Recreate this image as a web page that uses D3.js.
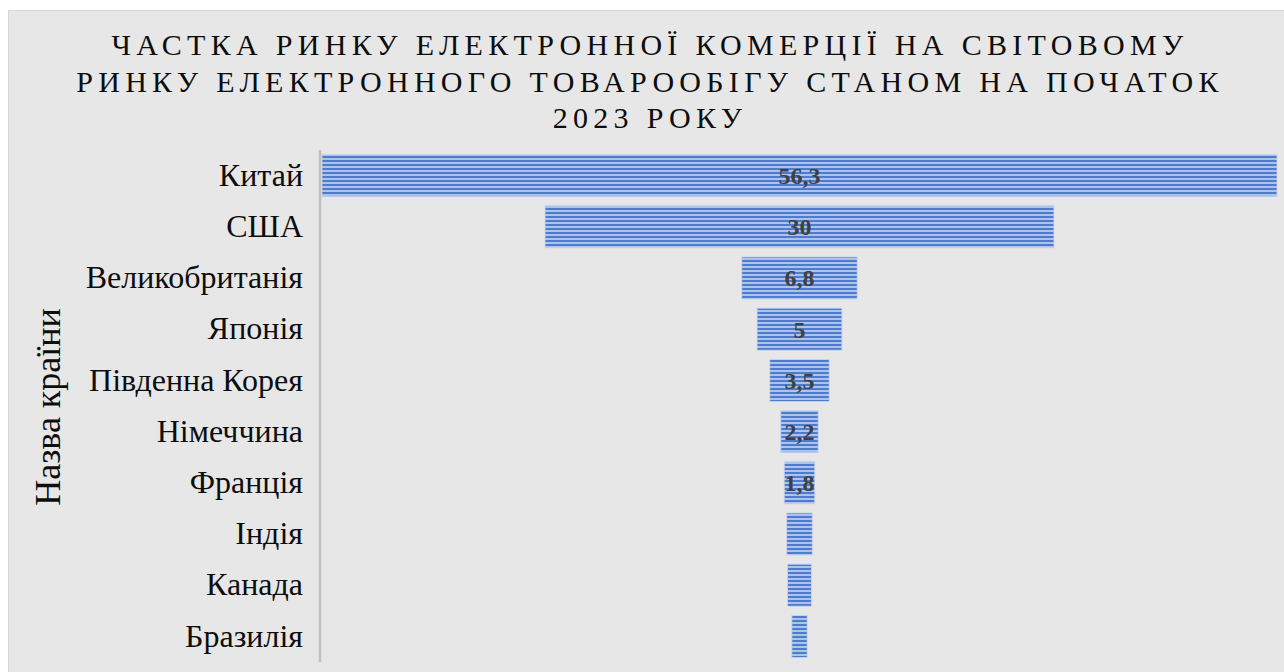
<!DOCTYPE html>
<html>
<head>
<meta charset="utf-8">
<script src="https://cdn.jsdelivr.net/npm/d3@7"></script>
<style>
  body { margin: 0; background: #ffffff; }
  svg { display: block; }
</style>
</head>
<body>
<svg id="canvas"></svg>
<script>
/** Chart data */
let countries = ['Китай', 'США', 'Великобританія', 'Японія', 'Південна Корея', 'Німеччина', 'Франція', 'Індія', 'Канада', 'Бразилія'];
let shares = [56.3, 30, 6.8, 5, 3.5, 2.2, 1.8, 1.5, 1.4, 0.9];
let shareLabels = ['56,3', '30', '6,8', '5', '3,5', '2,2', '1,8', '', '', ''];
let titleLines = [
    'ЧАСТКА РИНКУ ЕЛЕКТРОННОЇ КОМЕРЦІЇ НА СВІТОВОМУ',
    'РИНКУ ЕЛЕКТРОННОГО ТОВАРООБІГУ СТАНОМ НА ПОЧАТОК',
    '2023 РОКУ'
];
let axisTitle = 'Назва країни';

let width = 1284;
let height = 672;

let plotLeft = 322;
let plotRight = 1277;
let plotTop = 150;
let plotBottom = 662;
let centerX = (plotLeft + plotRight) / 2;

let canvas = d3.select('#canvas')
    .attr('width', width)
    .attr('height', height);

/** Background of the chart area */
canvas.append('rect')
    .attr('x', 8.5)
    .attr('y', 10.5)
    .attr('width', width)
    .attr('height', height)
    .attr('fill', '#e7e7e7')
    .attr('stroke', '#d6d6d6');

/** Striped fill for the bars */
let pattern = canvas.append('defs')
    .append('pattern')
    .attr('id', 'stripes')
    .attr('patternUnits', 'userSpaceOnUse')
    .attr('width', 8)
    .attr('height', 4);
pattern.append('rect')
    .attr('width', 8).attr('height', 4)
    .attr('fill', '#adc3ea');
pattern.append('rect')
    .attr('width', 8).attr('height', 2)
    .attr('fill', '#4d7bcf');

/** Scales */
let xScale = d3.scaleLinear()
    .domain([0, d3.max(shares)])
    .range([0, plotRight - plotLeft]);

let yScale = d3.scaleBand()
    .domain(countries)
    .range([plotTop, plotBottom])
    .paddingInner(0.18)
    .paddingOuter(0.09);

/** Title */
canvas.append('g')
    .selectAll('text')
    .data(titleLines)
    .enter()
    .append('text')
    .attr('x', 650)
    .attr('y', (d, i) => 55 + i * 36.5)
    .attr('text-anchor', 'middle')
    .attr('font-family', '"Liberation Serif", "Times New Roman", serif')
    .attr('font-size', 30)
    .attr('letter-spacing', 5.3)
    .attr('fill', '#0d0d0d')
    .text(d => d);

/** Bars */
canvas.append('g')
    .selectAll('rect')
    .data(shares)
    .enter()
    .append('rect')
    .attr('x', d => centerX - xScale(d) / 2)
    .attr('y', (d, i) => yScale(countries[i]))
    .attr('width', d => xScale(d))
    .attr('height', yScale.bandwidth())
    .attr('fill', 'url(#stripes)')
    .attr('stroke', '#c3d2ee')
    .attr('stroke-width', 0.8);

/** Data labels */
canvas.append('g')
    .selectAll('text')
    .data(shareLabels)
    .enter()
    .append('text')
    .attr('x', centerX)
    .attr('y', (d, i) => yScale(countries[i]) + yScale.bandwidth() / 2)
    .attr('dy', '0.35em')
    .attr('text-anchor', 'middle')
    .attr('font-family', '"Liberation Serif", "Times New Roman", serif')
    .attr('font-weight', 'bold')
    .attr('font-size', 24)
    .attr('fill', '#404040')
    .text(d => d);

/** Category axis */
let yAxis = d3.axisLeft(yScale)
    .tickSize(0)
    .tickPadding(17);

let axisG = canvas.append('g')
    .attr('transform', `translate(${plotLeft - 2}, 0)`)
    .call(yAxis);

axisG.select('.domain')
    .attr('d', `M0,${plotTop}V${plotBottom}`)
    .attr('stroke', '#bfbfbf')
    .attr('stroke-width', 2.5);

axisG.selectAll('.tick text')
    .attr('font-family', '"Liberation Serif", "Times New Roman", serif')
    .attr('font-size', 32)
    .attr('fill', '#0d0d0d');

/** Axis title */
canvas.append('text')
    .attr('transform', `translate(60, 407) rotate(-90)`)
    .attr('text-anchor', 'middle')
    .attr('font-family', '"Liberation Serif", "Times New Roman", serif')
    .attr('font-size', 36)
    .attr('fill', '#0d0d0d')
    .text(axisTitle);
</script>
</body>
</html>
